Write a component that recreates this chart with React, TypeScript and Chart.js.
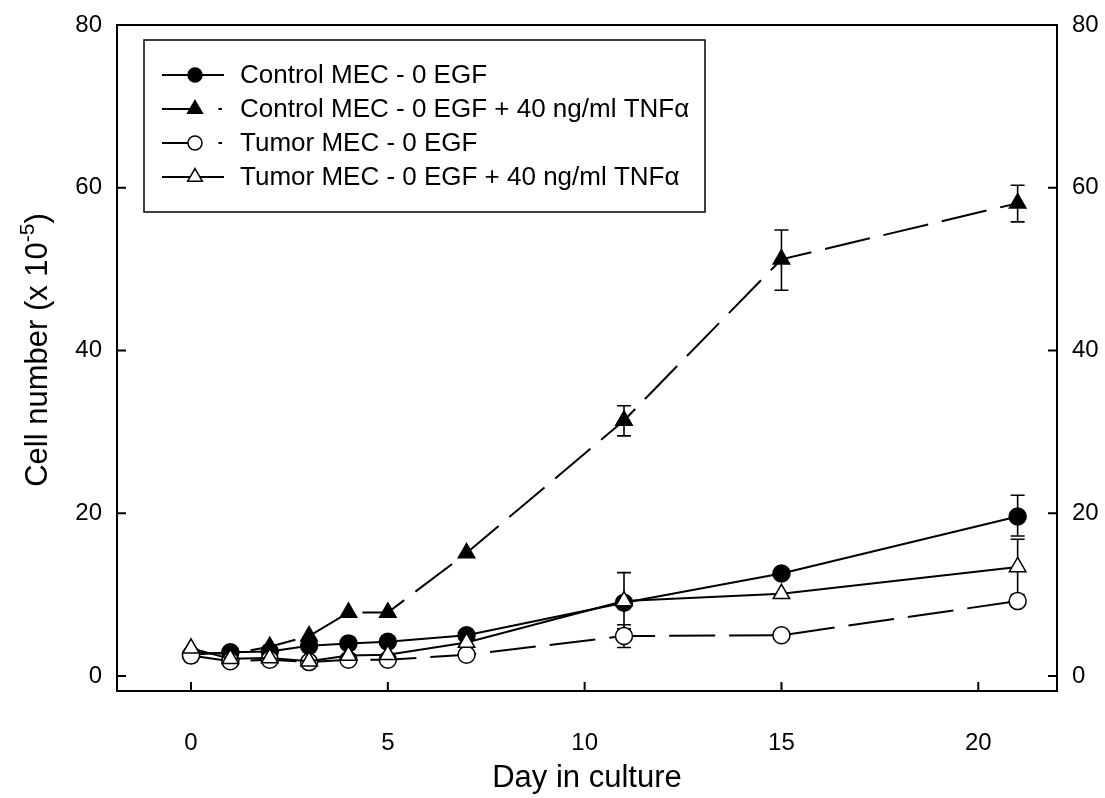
import React, { useEffect, useRef } from "react";
import { Chart, registerables } from "chart.js";

Chart.register(...registerables);

// ---- data ----
const days = [0, 1, 2, 3, 4, 5, 7, 11, 15, 21];
const controlEGF0 = [2.6, 2.9, 3.0, 3.7, 4.0, 4.2, 5.0, 9.0, 12.6, 19.6];
const controlTNF = [2.9, 2.7, 3.6, 4.9, 7.8, 7.8, 15.1, 31.4, 51.2, 58.1];
const tumorEGF0 = [2.5, 1.8, 2.0, 1.7, 2.0, 2.0, 2.6, 4.9, 5.0, 9.2];
const tumorTNF = [3.4, 2.1, 2.2, 1.8, 2.5, 2.6, 4.1, 9.2, 10.1, 13.4];

type Err = [number, number] | null;
const controlEGF0Err: Err[] = [null, null, null, null, null, null, null, null, null, [17.2, 22.2]];
const controlTNFErr: Err[] = [null, null, null, null, null, null, null, [29.5, 33.2], [47.4, 54.8], [55.8, 60.3]];
const tumorEGF0Err: Err[] = [null, null, null, null, null, null, null, [3.5, 6.3], null, null];
const tumorTNFErr: Err[] = [null, null, null, null, null, null, null, [5.8, 12.7], null, [10.0, 16.8]];

const seriesLabels = [
  "Control MEC - 0 EGF",
  "Control MEC - 0 EGF + 40 ng/ml TNF\u03b1",
  "Tumor MEC - 0 EGF",
  "Tumor MEC - 0 EGF + 40 ng/ml TNF\u03b1",
];
const xTicks = [0, 5, 10, 15, 20];
const yTicks = [0, 20, 40, 60, 80];
const xTitle = "Day in culture";
const yTitleMain = "Cell number (x 10";
const yTitleSup = "-5";
const yTitleEnd = ")";

const FONT = "'Liberation Sans', Arial, sans-serif";
const DASH = [46, 14];

const seriesValues = [controlEGF0, controlTNF, tumorEGF0, tumorTNF];
const seriesErrors = [controlEGF0Err, controlTNFErr, tumorEGF0Err, tumorTNFErr];
const seriesStyle = [
  { shape: "circle", filled: true, dashed: false, r: 8.5, order: 3 },
  { shape: "triangle", filled: true, dashed: true, r: 9.5, order: 2 },
  { shape: "circle", filled: false, dashed: true, r: 8.5, order: 1 },
  { shape: "triangle", filled: false, dashed: false, r: 9.5, order: 0 },
];

function drawMarker(ctx: CanvasRenderingContext2D, shape: string, filled: boolean, x: number, y: number, r: number) {
  ctx.beginPath();
  if (shape === "circle") {
    ctx.arc(x, y, r, 0, Math.PI * 2);
  } else {
    let rad = 0;
    ctx.moveTo(x + Math.sin(rad) * r, y - Math.cos(rad) * r);
    rad += (2 * Math.PI) / 3;
    ctx.lineTo(x + Math.sin(rad) * r, y - Math.cos(rad) * r);
    rad += (2 * Math.PI) / 3;
    ctx.lineTo(x + Math.sin(rad) * r, y - Math.cos(rad) * r);
    ctx.closePath();
  }
  ctx.fillStyle = filled ? "#000" : "#fff";
  ctx.fill();
  ctx.lineWidth = 1.5;
  ctx.strokeStyle = "#000";
  ctx.stroke();
}

const errorBarPlugin = {
  id: "errorBars",
  beforeDatasetsDraw(chart: any) {
    const ctx = chart.ctx;
    const xs = chart.scales.x;
    const ys = chart.scales.y;
    ctx.save();
    ctx.strokeStyle = "#000";
    ctx.lineWidth = 1.6;
    seriesErrors.forEach((errs) => {
      errs.forEach((e, i) => {
        if (!e) return;
        const px = xs.getPixelForValue(days[i]);
        const lo = ys.getPixelForValue(e[0]);
        const hi = ys.getPixelForValue(e[1]);
        ctx.beginPath();
        ctx.moveTo(px, lo);
        ctx.lineTo(px, hi);
        ctx.moveTo(px - 7, lo);
        ctx.lineTo(px + 7, lo);
        ctx.moveTo(px - 7, hi);
        ctx.lineTo(px + 7, hi);
        ctx.stroke();
      });
    });
    ctx.restore();
  },
};

const framePlugin = {
  id: "frameLegend",
  afterDraw(chart: any) {
    const ctx = chart.ctx;
    const a = chart.chartArea;
    const xs = chart.scales.x;
    const ys = chart.scales.y;
    ctx.save();
    ctx.strokeStyle = "#000";
    ctx.lineWidth = 2;
    ctx.strokeRect(a.left, a.top, a.right - a.left, a.bottom - a.top);
    ctx.beginPath();
    const TL = 9;
    xTicks.forEach((v) => {
      const px = xs.getPixelForValue(v);
      ctx.moveTo(px, a.bottom);
      ctx.lineTo(px, a.bottom - TL);
    });
    yTicks.forEach((v) => {
      const py = ys.getPixelForValue(v);
      ctx.moveTo(a.left, py);
      ctx.lineTo(a.left + TL, py);
      ctx.moveTo(a.right, py);
      ctx.lineTo(a.right - TL, py);
    });
    ctx.stroke();

    // y-axis title with superscript
    ctx.save();
    ctx.translate(47, 350);
    ctx.rotate(-Math.PI / 2);
    ctx.fillStyle = "#000";
    ctx.textBaseline = "alphabetic";
    ctx.textAlign = "left";
    const mainFont = `31px ${FONT}`;
    const supFont = `21px ${FONT}`;
    ctx.font = mainFont;
    const w1 = ctx.measureText(yTitleMain).width;
    const w3 = ctx.measureText(yTitleEnd).width;
    ctx.font = supFont;
    const w2 = ctx.measureText(yTitleSup).width;
    const total = w1 + w2 + w3;
    let cx = -total / 2;
    ctx.font = mainFont;
    ctx.fillText(yTitleMain, cx, 0);
    cx += w1;
    ctx.font = supFont;
    ctx.fillText(yTitleSup, cx, -13);
    cx += w2;
    ctx.font = mainFont;
    ctx.fillText(yTitleEnd, cx, 0);
    ctx.restore();

    // legend
    const bx = 144, by = 40, bw = 561, bh = 172;
    ctx.fillStyle = "#fff";
    ctx.fillRect(bx, by, bw, bh);
    ctx.lineWidth = 1.5;
    ctx.strokeRect(bx, by, bw, bh);
    const rows = [75, 109, 143, 177];
    ctx.font = `26px ${FONT}`;
    ctx.textBaseline = "middle";
    ctx.textAlign = "left";
    seriesLabels.forEach((label, i) => {
      const st = seriesStyle[i];
      const y = rows[i];
      ctx.lineWidth = 2;
      ctx.strokeStyle = "#000";
      ctx.beginPath();
      if (st.dashed) {
        ctx.moveTo(162, y);
        ctx.lineTo(196, y);
        ctx.moveTo(218.5, y);
        ctx.lineTo(222, y);
      } else {
        ctx.moveTo(162, y);
        ctx.lineTo(224, y);
      }
      ctx.stroke();
      drawMarker(ctx, st.shape, st.filled, 195, y, st.shape === "circle" ? 7 : 8.5);
      ctx.fillStyle = "#000";
      ctx.fillText(label, 240, y + 1);
    });
    ctx.restore();
  },
};

export default function App() {
  const ref = useRef<HTMLCanvasElement | null>(null);

  useEffect(() => {
    if (!ref.current) return;
    const datasets = seriesValues.map((vals, k) => {
      const st = seriesStyle[k];
      return {
        label: seriesLabels[k],
        data: days.map((d, i) => ({ x: d, y: vals[i] })),
        borderColor: "#000",
        borderWidth: 2,
        borderDash: st.dashed ? DASH : [],
        pointStyle: st.shape,
        pointRadius: st.r,
        pointBackgroundColor: st.filled ? "#000" : "#fff",
        pointBorderColor: "#000",
        pointBorderWidth: 1.5,
        tension: 0,
        fill: false,
        order: st.order,
        clip: false,
      };
    });

    const tickFont = { family: FONT, size: 24 };
    const fitY = (w: number) => (s: any) => {
      s.width = w;
      s.paddingTop = 0;
      s.paddingBottom = 0;
    };
    const chart = new Chart(ref.current, {
      type: "line",
      data: { datasets },
      options: {
        animation: false,
        responsive: false,
        devicePixelRatio: 1,
        events: [],
        layout: { padding: { top: 25, left: 0, right: 0, bottom: 0 } },
        plugins: { legend: { display: false }, tooltip: { enabled: false } },
        scales: {
          x: {
            type: "linear",
            min: -1.88,
            max: 22.0,
            afterBuildTicks: (s: any) => {
              s.ticks = xTicks.map((v) => ({ value: v }));
            },
            afterFit: (s: any) => {
              s.height = 107;
              s.paddingLeft = 0;
              s.paddingRight = 0;
            },
            grid: { display: false, drawTicks: false },
            border: { display: false },
            ticks: { font: tickFont, color: "#000", padding: 38, maxRotation: 0 },
            title: {
              display: true,
              text: xTitle,
              color: "#000",
              font: { family: FONT, size: 31 },
              padding: { top: 0, bottom: 1 },
            },
          },
          y: {
            type: "linear",
            position: "left",
            min: -1.85,
            max: 80,
            afterBuildTicks: (s: any) => {
              s.ticks = yTicks.map((v) => ({ value: v }));
            },
            afterFit: fitY(117),
            grid: { display: false, drawTicks: false },
            border: { display: false },
            ticks: { font: tickFont, color: "#000", padding: 15 },
          },
          y2: {
            type: "linear",
            position: "right",
            min: -1.85,
            max: 80,
            afterBuildTicks: (s: any) => {
              s.ticks = yTicks.map((v) => ({ value: v }));
            },
            afterFit: fitY(48),
            grid: { display: false, drawTicks: false },
            border: { display: false },
            ticks: { font: tickFont, color: "#000", padding: 15 },
          },
        },
      },
      plugins: [errorBarPlugin, framePlugin],
    } as any);
    return () => chart.destroy();
  }, []);

  return (
    <div style={{ position: "absolute", left: 0, top: 0, width: 1105, height: 798, background: "#fff" }}>
      <canvas ref={ref} width={1105} height={798} style={{ display: "block" }} />
    </div>
  );
}
